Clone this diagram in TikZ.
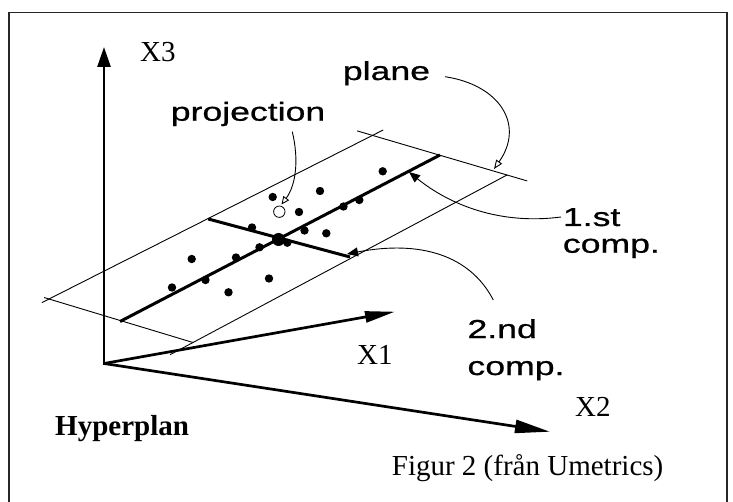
\documentclass[tikz,border=0pt]{standalone}
\usepackage{fontspec}
\setmainfont{Liberation Serif}
\newfontfamily\labelfont[FakeStretch=1.37,FakeBold=0.8]{Liberation Sans}
\usetikzlibrary{arrows.meta}
\tikzset{
  axis/.style={line width=2.7pt},
  planeedge/.style={line width=0.9pt},
  comp/.style={line width=3pt},
  callout/.style={line width=0.9pt},
  serif/.style={inner sep=0pt, anchor=base west, font=\fontsize{29}{32}\selectfont},
  sans/.style={inner sep=0pt, anchor=base west, align=left,
    font=\labelfont\fontsize{26}{26.7}\selectfont},
  datapt/.style={fill=black}
}
\begin{document}
\begin{tikzpicture}[x=1pt, y=-1pt]
  \useasboundingbox (0,0) rectangle (733,502);
  % frame
  \draw[line width=1.1pt, black!85] (9,502) -- (9,12.7) -- (727,12.7) -- (727,502);

  % axes
  \coordinate (O) at (104,363.5);
  \coordinate (x3) at (104,47);
  \coordinate (x1) at (395,311.7);
  \coordinate (x2) at (550,431.7);
  \draw[axis, -{Triangle[length=20pt,width=13pt]}] ([yshift=-1.3pt]O) -- (x3);
  \draw[axis, -{Triangle[length=30pt,width=11pt]}] (O) -- (x1);
  \draw[axis, -{Triangle[length=35pt,width=13pt]}] (O) -- (x2);

  % plane
  \coordinate (A) at (49,299);
  \coordinate (B) at (193,342.5);
  \coordinate (C) at (372.5,135.4);
  \coordinate (D) at (507,175);
  \draw[planeedge, shorten <=-8pt, shorten >=-12pt] (A) -- (C);
  \draw[planeedge, shorten <=-5pt] (A) -- (B);
  \draw[planeedge, shorten <=-26pt] (B) -- (D);
  \draw[planeedge, shorten <=-16pt, shorten >=-21pt] (C) -- (D);

  % components
  \coordinate (c1a) at (120,321.5);
  \coordinate (c1b) at (440,155);
  \coordinate (c2a) at (208.3,219);
  \coordinate (c2b) at (350,257);
  \draw[comp] (c1a) -- (c1b);
  \draw[comp] (c2a) -- (c2b);
  \fill (278.5,239.5) circle (6.5pt);

  % data points
  \foreach \p in {(382.7,171.3),(320,191),(272.7,197),(299,212),(359.3,200),
    (343.5,206.5),(252,227.5),(304.5,230.5),(326.3,233.3),(287.3,242.7),
    (259.5,247.3),(236,257.5),(191.7,259),(269,278.5),(205.5,280),
    (172,287.5),(228.5,292.3)}
    \fill[datapt] \p circle (4.2pt);
  \draw[line width=0.8pt] (279.3,211.7) circle (5.7pt);

  % labels
  \node[serif] (lx3) at (140,61.5) {X3};
  \node[serif] (lx1) at (357,364) {X1};
  \node[serif] (lx2) at (575,416.7) {X2};
  \node[serif, font=\fontsize{29}{32}\selectfont\bfseries] (hyp) at (55,435) {Hyperplan};
  \node[serif] (fig) at (391.7,475) {Figur 2 (från Umetrics)};
  \node[sans] (plane) at (342.7,80) {plane};
  \node[sans] (proj) at (170.6,120.7) {projection};
  \node[sans] (first) at (562.7,252.7) {1.st\\comp.};
  \node[sans] (second) at (467.3,375) {2.nd\\[10.3pt]comp.};

  % callouts
  \coordinate (planetip) at (494,169);
  \coordinate (projtip) at (281.5,204.5);
  \coordinate (firsttip) at (409,172);
  \coordinate (secondtip) at (347,254);
  \draw[callout, -{Triangle[open,length=9pt,width=7pt]}]
    ([xshift=102.3pt,yshift=3.3pt]plane.base west) .. controls (500,85) and (525,125) .. (planetip);
  \draw[callout, -{Triangle[open,length=8pt,width=7pt]}]
    ([xshift=121.7pt,yshift=-11pt]proj.base west) .. controls (299,160) and (296,185) .. (projtip);
  \draw[callout, -{Triangle[length=11pt,width=9pt]}]
    ([xshift=-1.7pt,yshift=35.7pt]first.base west) .. controls (500,225) and (450,205) .. (firsttip);
  \draw[callout, -{Triangle[length=11pt,width=9pt]}]
    ([xshift=26pt,yshift=75pt]second.base west) .. controls (470,255) and (420,240) .. (secondtip);
\end{tikzpicture}
\end{document}
